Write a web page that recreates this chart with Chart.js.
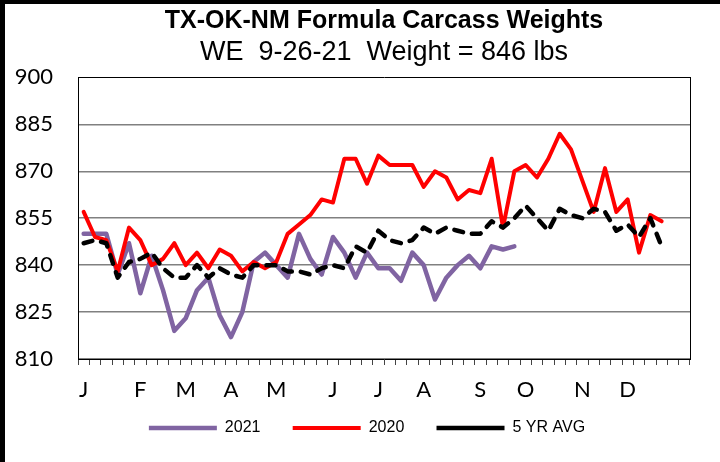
<!DOCTYPE html>
<html>
<head>
<meta charset="utf-8">
<script src="https://cdn.jsdelivr.net/npm/chart.js@4.4.1/dist/chart.umd.min.js"></script>
<style>
  html, body { margin: 0; padding: 0; background: #000; }
  #wrap { position: absolute; left: 5px; top: 4px; width: 715px; height: 458px; background: #fff; }
</style>
</head>
<body>
<div id="wrap"><canvas id="chart"></canvas></div>
<script>
// TX-OK-NM formula carcass weights, weekly (lbs)

const weekLabels = [
  'J', '', '', '', '', 'F', '', '', '', 'M', '', '', '', 'A', '', '', '', 'M', '', '', '', '',
  'J', '', '', '', 'J', '', '', '', 'A', '', '', '', '', 'S', '', '', '', 'O', '', '', '', '',
  'N', '', '', '', 'D', '', '', '', '', ''
];

const y2021 = [850, 850, 850, 837, 847, 831, 843, 832, 819, 823, 832, 836, 824, 817, 825, 841,
  844, 840, 836, 850, 842, 837, 849, 844, 836, 844, 839, 839, 835, 844, 840, 829, 836, 840,
  843, 839, 846, 845, 846];

const y2020 = [857, 849, 848, 838, 852, 848, 840, 842, 847, 840, 844, 839, 845, 843, 838, 841,
  839, 841, 850, 853, 856, 861, 860, 874, 874, 866, 875, 872, 872, 872, 865, 870, 868, 861,
  864, 863, 874, 852, 870, 872, 868, 874, 882, 877, 867, 857, 871, 857, 861, 844, 856, 854];

const avg5 = [847, 848, 847, 836, 841, 842, 844, 839, 836, 836, 840, 836, 839, 837, 836, 840,
  840, 840, 838, 838, 837, 839, 840, 839, 846, 844, 851, 848, 847, 848, 852, 850, 852, 851,
  850, 850, 854, 852, 855, 859, 855, 851, 858, 856, 855, 858, 857, 851, 853, 849, 855, 846];

const yTicks = [810, 825, 840, 855, 870, 885, 900];

const chartTitle = 'TX-OK-NM Formula Carcass Weights';
const chartSubtitle = 'WE  9-26-21  Weight = 846 lbs';

const axisFont = {family: 'Lato', size: 22};

// default legend items, with a little extra room between entries (not after the last one)
const legendItems = chart =>
  Chart.defaults.plugins.legend.labels.generateLabels(chart)
    .map(item => ({...item, text: item.datasetIndex < 2 ? item.text + '     ' : item.text}));

const ctx = document.getElementById('chart').getContext('2d');
new Chart(ctx, {
  type: 'line',
  data: {
    labels: weekLabels,
    datasets: [
      {
        label: '2021', data: y2021, borderColor: '#8064A2', backgroundColor: '#8064A2',
        borderWidth: 4.5, order: 2
      },
      {
        label: '2020', data: y2020, borderColor: '#FF0000', backgroundColor: '#FF0000',
        borderWidth: 4, order: 1
      },
      {
        label: '5 YR AVG', data: avg5, borderColor: '#000', backgroundColor: '#000',
        borderWidth: 4.5, borderDash: [9, 9], order: 0
      }
    ]
  },
  options: {
    responsive: true,
    maintainAspectRatio: false,
    devicePixelRatio: 1,
    animation: false,
    layout: {padding: {left: 0, right: -9, top: 0, bottom: 16}},
    elements: {
      line: {tension: 0, fill: false, borderCapStyle: 'round', borderJoinStyle: 'round'},
      point: {radius: 0, hoverRadius: 0}
    },
    plugins: {
      title: {
        display: true, fullSize: false, text: chartTitle, color: '#000',
        font: {family: 'Liberation Sans', size: 25, weight: 'bold', lineHeight: 1.2},
        padding: {top: 2, bottom: 0}
      },
      subtitle: {
        display: true, fullSize: false, text: chartSubtitle, color: '#000',
        font: {family: 'Liberation Sans', size: 27, lineHeight: 1.2},
        padding: {top: 0, bottom: 9}
      },
      legend: {
        position: 'bottom',
        labels: {
          usePointStyle: true, pointStyle: 'line', pointStyleWidth: 68,
          color: '#000', padding: 10,
          font: {family: 'Liberation Sans', size: 16},
          generateLabels: legendItems,
          sort: (a, b) => a.datasetIndex - b.datasetIndex
        }
      },
      tooltip: {enabled: false}
    },
    scales: {
      x: {
        offset: true,
        afterFit: s => { s.height = 51; },
        grid: {offset: true, drawOnChartArea: false, drawTicks: true, tickLength: 6, color: '#444', lineWidth: 1},
        border: {display: true, color: '#000', width: 1},
        ticks: {autoSkip: false, maxRotation: 0, minRotation: 0, color: '#000', font: axisFont, padding: 12}
      },
      y: {
        min: 810, max: 900,
        afterFit: s => { s.width = 73; },
        afterBuildTicks: s => { s.ticks = yTicks.map(v => ({value: v})); },
        grid: {
          drawTicks: false,
          color: c => (c.tick.value === 900 ? '#000' : '#808080'),
          lineWidth: c => (c.tick.value === 900 ? 1 : 1.5)
        },
        border: {display: true, color: '#000', width: 1},
        ticks: {color: '#000', font: axisFont, padding: 25}
      },
      y2: {
        position: 'right',
        min: 810, max: 900,
        afterFit: s => { s.width = 39; },
        grid: {drawOnChartArea: false, drawTicks: false},
        border: {display: true, color: '#000', width: 1},
        ticks: {display: false}
      }
    }
  }
});
</script>
</body>
</html>
